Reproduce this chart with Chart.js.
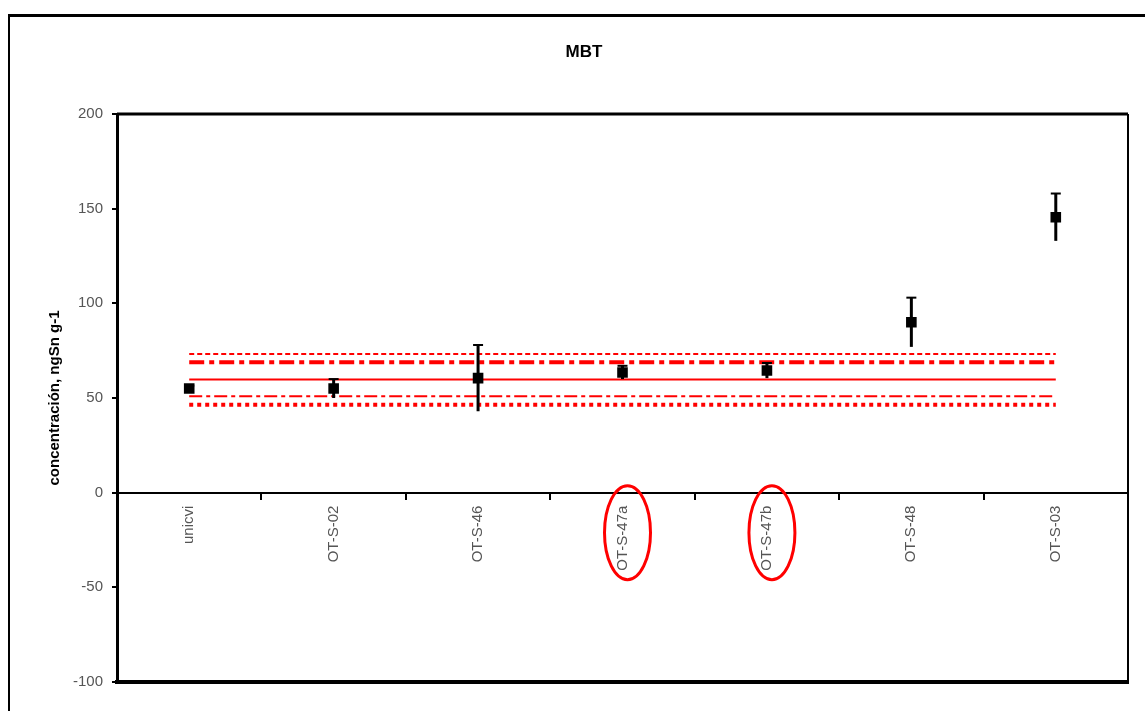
<!DOCTYPE html>
<html>
<head>
<meta charset="utf-8">
<title>MBT</title>
<script src="https://cdn.jsdelivr.net/npm/chart.js@4.4.1/dist/chart.umd.min.js"></script>
<style>
  html, body { margin: 0; padding: 0; background: #fff; overflow: hidden; }
  #wrap { width: 1168px; height: 725px; }
</style>
</head>
<body>
<div id="wrap"><canvas id="c" width="1168" height="725"></canvas></div>
<script>
// Samples and measured MBT concentrations (ngSn g-1) with their uncertainties
const categories = ['unicvi', 'OT-S-02', 'OT-S-46', 'OT-S-47a', 'OT-S-47b', 'OT-S-48', 'OT-S-03'];
const values = [55, 55, 60.5, 63.5, 64.5, 90, 145.5];
const errors = [1.5, 5, 17.5, 3.5, 4, 13, 12.5];

// Reference value and acceptance bands
const refMean = 59.8;
const refUpperInner = 68.9;
const refLowerInner = 50.9;
const refUpperOuter = 73.3;
const refLowerOuter = 46.5;

// Y axis ticks
const yTicks = [-100, -50, 0, 50, 100, 150, 200];

// Samples to highlight below the axis
const highlighted = ['OT-S-47a', 'OT-S-47b'];

const flat = v => categories.map(() => v);
const RED = '#ff0000';
const FONT = "'Liberation Sans', Arial, sans-serif";

const frameAndBorders = {
  id: 'frameAndBorders',
  beforeDraw(chart) {
    const ctx = chart.ctx;
    ctx.save();
    ctx.fillStyle = '#fff';
    ctx.fillRect(0, 0, chart.width, chart.height);
    ctx.strokeStyle = '#000';
    ctx.lineWidth = 2;
    ctx.beginPath();
    ctx.moveTo(9, chart.height - 6);
    ctx.lineTo(9, 15);
    ctx.stroke();
    ctx.lineWidth = 3;
    ctx.beginPath();
    ctx.moveTo(8, 15.5);
    ctx.lineTo(chart.width - 8, 15.5);
    ctx.stroke();
    ctx.lineWidth = 2;
    ctx.beginPath();
    ctx.moveTo(chart.width - 8, 15);
    ctx.lineTo(chart.width - 8, chart.height - 6);
    ctx.stroke();
    ctx.restore();
  },
  afterDraw(chart) {
    const {ctx, chartArea: a} = chart;
    ctx.save();
    ctx.strokeStyle = '#000';
    // plot frame: top, right, bottom
    ctx.lineWidth = 3;
    ctx.beginPath();
    ctx.moveTo(a.left, a.top);
    ctx.lineTo(a.right, a.top);
    ctx.stroke();
    ctx.lineWidth = 2;
    ctx.beginPath();
    ctx.moveTo(a.right, a.top);
    ctx.lineTo(a.right, a.bottom);
    ctx.stroke();
    ctx.lineWidth = 4;
    ctx.beginPath();
    ctx.moveTo(a.left - 2, a.bottom);
    ctx.lineTo(a.right + 1, a.bottom);
    ctx.stroke();
    // chart title
    ctx.fillStyle = '#000';
    ctx.font = 'bold 17px ' + FONT;
    ctx.textAlign = 'center';
    ctx.textBaseline = 'middle';
    ctx.fillText('MBT', chart.width / 2, 52);
    // ellipses around highlighted sample labels
    const xs = chart.scales.x, ys = chart.scales.y;
    const y0 = ys.getPixelForValue(0);
    ctx.strokeStyle = RED;
    ctx.lineWidth = 3;
    highlighted.forEach(name => {
      const i = categories.indexOf(name);
      const cx = xs.getPixelForValue(i) + 5;
      ctx.beginPath();
      ctx.ellipse(cx, y0 + 40, 23, 47, 0, 0, Math.PI * 2);
      ctx.stroke();
    });
    ctx.restore();
  }
};

const errorBars = {
  id: 'errorBars',
  afterDatasetsDraw(chart) {
    const {ctx} = chart;
    const xs = chart.scales.x, ys = chart.scales.y;
    ctx.save();
    ctx.strokeStyle = '#000';
    values.forEach((v, i) => {
      const x = xs.getPixelForValue(i);
      const yTop = ys.getPixelForValue(v + errors[i]);
      const yBot = ys.getPixelForValue(v - errors[i]);
      ctx.lineWidth = 3;
      ctx.beginPath();
      ctx.moveTo(x, yTop);
      ctx.lineTo(x, yBot);
      ctx.stroke();
      ctx.lineWidth = 2;
      ctx.beginPath();
      ctx.moveTo(x - 5, yTop);
      ctx.lineTo(x + 5, yTop);
      ctx.stroke();
    });
    ctx.restore();
  }
};

const refLine = (label, v, width, dash) => ({
  label, data: flat(v), type: 'line', borderColor: RED, borderWidth: width,
  borderDash: dash, pointRadius: 0, fill: false, tension: 0
});

new Chart(document.getElementById('c'), {
  type: 'line',
  data: {
    labels: categories,
    datasets: [
      {
        label: 'MBT',
        data: values,
        showLine: false,
        pointStyle: 'rect',
        pointRadius: 7.5,
        pointBackgroundColor: '#000',
        pointBorderColor: '#000',
        pointBorderWidth: 0
      },
      refLine('mean', refMean, 2, []),
      refLine('upper inner', refUpperInner, 4, [15, 5, 5, 5]),
      refLine('lower inner', refLowerInner, 2, [13, 4, 4, 4]),
      refLine('upper outer', refUpperOuter, 2, [5, 3]),
      refLine('lower outer', refLowerOuter, 4, [4, 4])
    ]
  },
  options: {
    responsive: false,
    animation: false,
    events: [],
    layout: { padding: { left: 0, top: 114, right: 40, bottom: 43 } },
    plugins: {
      legend: { display: false },
      title: { display: false },
      tooltip: { enabled: false }
    },
    scales: {
      x: {
        type: 'category',
        position: { y: 0 },
        offset: true,
        border: { display: true, color: '#000', width: 2 },
        grid: { offset: true, drawOnChartArea: false, drawTicks: true, tickLength: 6, color: '#000', lineWidth: 2 },
        ticks: {
          minRotation: 90, maxRotation: 90, autoSkip: false, padding: 7,
          color: '#555', font: { family: FONT, size: 15 }
        }
      },
      y: {
        min: -100, max: 200,
        afterBuildTicks(scale) { scale.ticks = yTicks.map(v => ({ value: v })); },
        afterFit(scale) { scale.width = 117; },
        border: { display: true, color: '#000', width: 3 },
        grid: { drawOnChartArea: false, drawTicks: true, tickLength: 5, color: '#000', lineWidth: 2 },
        ticks: { padding: 9, color: '#555', font: { family: FONT, size: 15 } },
        title: {
          display: true, text: 'concentración, ngSn g-1', color: '#000',
          font: { family: FONT, size: 15, weight: 'bold' },
          padding: { top: 46, bottom: 0 }
        }
      }
    }
  },
  plugins: [frameAndBorders, errorBars]
});
</script>
</body>
</html>
